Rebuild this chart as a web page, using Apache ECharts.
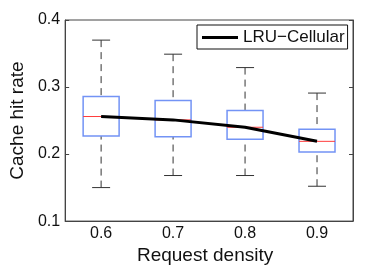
<!DOCTYPE html>
<html>
<head>
<meta charset="utf-8">
<script src="https://cdn.jsdelivr.net/npm/echarts@6/dist/echarts.min.js"></script>
<style>html,body{margin:0;padding:0;background:#fff;}#c{width:391px;height:270px;}</style>
</head>
<body>
<div id="c"></div>
<script>
const categories = ['0.6', '0.7', '0.8', '0.9'];
const whiskerLow = [0.150, 0.168, 0.168, 0.152];
const q1 = [0.227, 0.226, 0.222, 0.203];
const median = [0.256, 0.251, 0.240, 0.219];
const q3 = [0.286, 0.280, 0.265, 0.237];
const whiskerHigh = [0.370, 0.349, 0.329, 0.291];
const lineValues = [0.256, 0.251, 0.240, 0.219];
const yTicks = [0.1, 0.2, 0.3, 0.4];

const boxData = categories.map((c, i) => [i, whiskerLow[i], q1[i], median[i], q3[i], whiskerHigh[i]]);
const font = "'Liberation Sans', Arial, Helvetica, sans-serif";

const chart = echarts.init(document.getElementById('c'), null, {renderer: 'canvas'});
chart.setOption({
  animation: false,
  backgroundColor: '#fff',
  grid: {left: 56, right: 38, top: 20, bottom: 44, show: true, borderColor: '#444', borderWidth: 1, backgroundColor: 'transparent'},
  legend: {
    left: 197, top: 25,
    padding: [4, 3, 3, 5],
    borderColor: '#111', borderWidth: 1, backgroundColor: '#fff',
    itemWidth: 36, itemHeight: 12,
    textStyle: {fontFamily: font, fontSize: 17, color: '#111'},
    data: [{name: 'LRU\u2212Cellular', icon: 'path://M0,0 L36,0 L36,3 L0,3 Z', itemStyle: {color: '#000'}}]
  },
  xAxis: {
    type: 'category', data: categories, boundaryGap: true,
    name: 'Request density', nameLocation: 'middle', nameGap: 10,
    nameTextStyle: {fontFamily: font, fontSize: 19, color: '#111', padding: [0, 8, 0, 0]},
    axisLine: {show: true, lineStyle: {color: '#444', width: 1}},
    axisTick: {show: false},
    axisLabel: {fontFamily: font, fontSize: 16, color: '#111', margin: 4},
    splitLine: {show: false}
  },
  yAxis: [{
    type: 'value', min: 0.1, max: 0.4, interval: 0.1,
    name: 'Cache hit rate', nameLocation: 'middle', nameGap: 36,
    nameTextStyle: {fontFamily: font, fontSize: 19, color: '#111'},
    axisLine: {show: true, lineStyle: {color: '#444', width: 1}},
    axisTick: {show: true, inside: true, length: 4, lineStyle: {color: '#444'}},
    axisLabel: {fontFamily: font, fontSize: 16, color: '#111', margin: 5,
      formatter: v => { const t = yTicks.find(k => Math.abs(k - v) < 1e-9); return t !== undefined ? t.toFixed(1) : ''; }},
    splitLine: {show: false}
  }, {
    type: 'value', min: 0.1, max: 0.4, interval: 0.1, position: 'right',
    axisLine: {show: true, lineStyle: {color: '#444', width: 1}},
    axisTick: {show: true, inside: true, length: 4, lineStyle: {color: '#444'}},
    axisLabel: {show: false},
    splitLine: {show: false}
  }],
  series: [{
    type: 'custom',
    name: 'box',
    z: 2,
    data: boxData,
    encode: {x: 0, y: [1, 2, 3, 4, 5]},
    renderItem: function (params, api) {
      const x = api.value(0);
      const pLow = api.coord([x, api.value(1)]);
      const pQ1 = api.coord([x, api.value(2)]);
      const pMed = api.coord([x, api.value(3)]);
      const pQ3 = api.coord([x, api.value(4)]);
      const pHigh = api.coord([x, api.value(5)]);
      const band = api.size([1, 0])[0];
      const bw = band * 0.5;
      const cw = bw * 0.5;
      const cx = pMed[0];
      const dash = {stroke: '#333', lineWidth: 1, lineDash: [7, 5], fill: null};
      const solid = {stroke: '#333', lineWidth: 1, fill: null};
      return {
        type: 'group',
        children: [
          {type: 'line', shape: {x1: cx, y1: pHigh[1], x2: cx, y2: pQ3[1]}, style: dash},
          {type: 'line', shape: {x1: cx, y1: pLow[1], x2: cx, y2: pQ1[1]}, style: dash},
          {type: 'line', shape: {x1: cx - cw / 2, y1: pHigh[1], x2: cx + cw / 2, y2: pHigh[1]}, style: solid},
          {type: 'line', shape: {x1: cx - cw / 2, y1: pLow[1], x2: cx + cw / 2, y2: pLow[1]}, style: solid},
          {type: 'rect', shape: {x: cx - bw / 2, y: pQ3[1], width: bw, height: pQ1[1] - pQ3[1]},
            style: {stroke: '#7393f5', lineWidth: 1.5, fill: 'rgba(255,255,255,0)'}},
          {type: 'line', shape: {x1: cx - bw / 2, y1: pMed[1], x2: cx + bw / 2, y2: pMed[1]},
            style: {stroke: '#ff3b3b', lineWidth: 1}}
        ]
      };
    }
  }, {
    type: 'line',
    name: 'LRU\u2212Cellular',
    z: 5,
    data: lineValues,
    symbol: 'none',
    lineStyle: {color: '#000', width: 3},
    itemStyle: {color: '#000'}
  }]
});
</script>
</body>
</html>
